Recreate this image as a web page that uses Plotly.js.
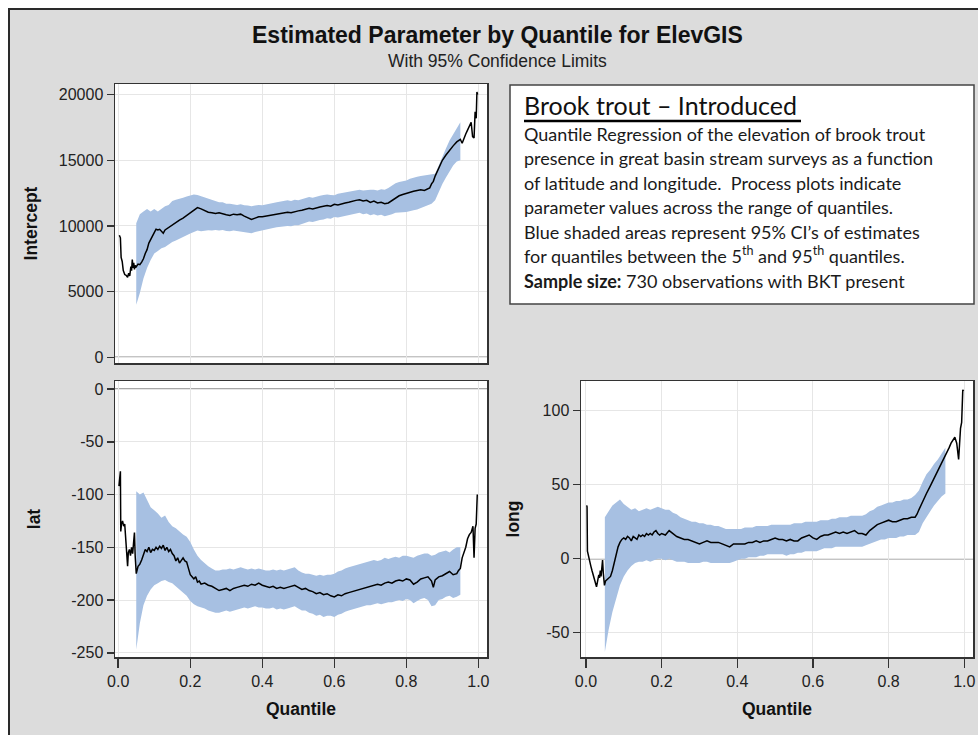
<!DOCTYPE html>
<html>
<head>
<meta charset="utf-8">
<script src="https://cdn.plot.ly/plotly-3.0.1.min.js"></script>
<style>
html,body{margin:0;padding:0;background:#ffffff;}
#chart{width:978px;height:735px;}
</style>
</head>
<body>
<div id="chart"></div>
<script>
// ---------------- DATA ----------------
const bandQ = [0.05,0.06,0.07,0.08,0.09,0.10,0.11,0.12,0.13,0.14,0.15,0.16,0.17,0.18,0.19,0.20,0.21,0.22,0.23,0.24,0.25,0.26,0.27,0.28,0.29,0.30,0.31,0.32,0.33,0.34,0.35,0.36,0.37,0.38,0.39,0.40,0.41,0.42,0.43,0.44,0.45,0.46,0.47,0.48,0.49,0.50,0.51,0.52,0.53,0.54,0.55,0.56,0.57,0.58,0.59,0.60,0.61,0.62,0.63,0.64,0.65,0.66,0.67,0.68,0.69,0.70,0.71,0.72,0.73,0.74,0.75,0.76,0.77,0.78,0.79,0.80,0.81,0.82,0.83,0.84,0.85,0.86,0.87,0.88,0.89,0.90,0.91,0.92,0.93,0.94,0.95];

// Intercept
const interceptQ = [0.003,0.006,0.008,0.011,0.014,0.018,0.022,0.026,0.029,0.032,0.035,0.037,0.039,0.041,0.043,0.045,0.047,0.05,0.055,0.06,0.065,0.07,0.075,0.08,0.085,0.09,0.095,0.1,0.105,0.11,0.115,0.12,0.125,0.13,0.135,0.14,0.15,0.16,0.17,0.18,0.19,0.2,0.21,0.22,0.23,0.24,0.25,0.26,0.27,0.28,0.29,0.3,0.31,0.32,0.33,0.34,0.35,0.36,0.37,0.38,0.39,0.4,0.41,0.42,0.43,0.44,0.45,0.46,0.47,0.48,0.49,0.5,0.51,0.52,0.53,0.54,0.55,0.56,0.57,0.58,0.59,0.6,0.61,0.62,0.63,0.64,0.65,0.66,0.67,0.68,0.69,0.7,0.71,0.72,0.73,0.74,0.75,0.76,0.77,0.78,0.79,0.8,0.81,0.82,0.83,0.84,0.85,0.86,0.865,0.87,0.875,0.88,0.885,0.89,0.9,0.91,0.92,0.93,0.94,0.95,0.955,0.96,0.965,0.97,0.975,0.98,0.984,0.988,0.991,0.994,0.996,0.998];
const interceptEst = [9300,9100,7600,7300,6600,6300,6250,6100,6400,6200,6900,6600,7450,6800,7200,6700,7000,6900,7100,7050,7250,7500,7900,8200,8700,9000,9300,9500,9750,9700,9750,9600,9450,9700,9800,9900,10100,10250,10450,10600,10800,11000,11200,11400,11300,11150,11050,11000,10950,11000,10900,10850,10800,10900,10850,10900,10750,10650,10500,10600,10700,10700,10750,10800,10850,10900,10950,11000,11050,11000,11100,11150,11200,11250,11350,11300,11400,11450,11500,11550,11500,11650,11600,11700,11750,11800,11900,11950,12000,11900,11950,11800,11900,11750,11800,11700,11750,11950,12100,12300,12400,12500,12600,12650,12700,12750,12700,12800,12900,13200,13400,13800,14100,14500,15000,15400,15800,16100,16400,16600,16300,16700,17000,17300,17600,17900,16800,16700,18700,18200,20200,20000];
const interceptUpper = [10200,10900,11100,11300,11100,11300,11100,11300,11500,11600,11900,12000,12050,12150,12250,12330,12400,12350,12250,12150,12070,11950,11900,11800,11800,11700,11700,11650,11600,11650,11570,11550,11500,11550,11600,11570,11650,11700,11750,11800,11850,11900,11950,11900,12000,11950,12050,12150,12200,12150,12250,12300,12350,12400,12350,12330,12450,12500,12550,12600,12650,12700,12750,12700,12750,12760,12750,12700,12800,12750,12900,13100,13250,13350,13400,13470,13600,13700,13750,13800,13850,13900,13950,13980,14600,15300,15900,16500,17000,17500,17900];
const interceptLower = [4000,4900,6000,6800,7400,7900,8100,8300,8400,8600,8780,8900,9050,9200,9300,9420,9550,9650,9600,9650,9670,9650,9700,9650,9700,9620,9600,9650,9600,9580,9540,9500,9450,9550,9620,9670,9750,9800,9850,9900,9950,9950,10000,9980,10050,10050,10150,10250,10350,10300,10400,10450,10500,10580,10550,10680,10650,10700,10750,10800,10900,10950,11000,10900,10950,10810,10900,10800,10850,10750,10800,10900,11000,11050,11050,11060,11150,11200,11250,11350,11440,11550,11700,11950,12600,13200,13700,14200,14600,14900,15000];

// lat
const latQ = [0.002,0.004,0.006,0.007,0.009,0.012,0.015,0.018,0.021,0.024,0.026,0.028,0.031,0.034,0.037,0.04,0.042,0.045,0.047,0.05,0.055,0.06,0.065,0.07,0.075,0.08,0.085,0.09,0.095,0.1,0.105,0.11,0.115,0.12,0.125,0.13,0.135,0.14,0.145,0.15,0.155,0.16,0.165,0.17,0.175,0.18,0.185,0.19,0.195,0.2,0.205,0.21,0.215,0.22,0.225,0.23,0.24,0.25,0.26,0.27,0.28,0.29,0.3,0.31,0.32,0.33,0.34,0.35,0.36,0.37,0.38,0.39,0.4,0.41,0.42,0.43,0.44,0.45,0.46,0.47,0.48,0.49,0.5,0.51,0.52,0.53,0.54,0.55,0.56,0.57,0.58,0.59,0.6,0.61,0.62,0.63,0.64,0.65,0.66,0.67,0.68,0.69,0.7,0.71,0.72,0.73,0.74,0.75,0.76,0.77,0.78,0.79,0.8,0.81,0.82,0.83,0.84,0.85,0.86,0.87,0.875,0.88,0.89,0.9,0.91,0.92,0.93,0.94,0.945,0.95,0.955,0.96,0.965,0.97,0.975,0.98,0.985,0.988,0.991,0.994,0.997];
const latEst = [-92,-80,-78,-135,-128,-125,-130,-128,-142,-150,-168,-155,-152,-158,-150,-156,-148,-136,-158,-175,-168,-166,-162,-157,-152,-154,-150,-155,-152,-153,-150,-152,-149,-151,-148,-153,-150,-154,-152,-156,-158,-163,-160,-165,-162,-160,-163,-164,-170,-176,-178,-180,-178,-183,-182,-185,-184,-186,-187,-189,-191,-190,-189,-191,-189,-188,-187,-186,-187,-185,-186,-184,-186,-187,-188,-187,-189,-188,-189,-188,-187,-186,-188,-190,-189,-191,-192,-194,-193,-195,-194,-196,-197,-195,-196,-194,-193,-192,-191,-190,-189,-188,-187,-186,-185,-186,-184,-183,-184,-182,-181,-182,-180,-181,-185,-183,-180,-179,-178,-182,-188,-181,-178,-177,-175,-173,-176,-175,-172,-170,-160,-155,-150,-142,-138,-136,-130,-160,-132,-128,-100];
const latUpper = [-97,-100,-98,-105,-112,-115,-118,-122,-120,-126,-130,-132,-135,-138,-140,-145,-152,-158,-162,-165,-168,-170,-172,-172,-171,-171,-170,-171,-170,-169,-170,-171,-170,-171,-170,-171,-172,-172,-171,-172,-171,-172,-171,-170,-169,-172,-174,-175,-175,-176,-177,-176,-177,-176,-176,-175,-173,-172,-170,-169,-168,-167,-166,-165,-164,-163,-162,-163,-162,-160,-161,-160,-159,-160,-158,-158,-159,-160,-158,-157,-156,-156,-158,-157,-155,-154,-153,-155,-152,-150,-150];
const latLower = [-247,-222,-205,-196,-190,-186,-184,-182,-181,-183,-184,-187,-190,-193,-196,-201,-204,-206,-207,-208,-210,-211,-212,-212,-211,-210,-211,-210,-209,-208,-207,-208,-207,-206,-207,-207,-208,-208,-207,-209,-208,-209,-208,-207,-206,-208,-210,-210,-212,-213,-215,-214,-216,-215,-215,-216,-214,-213,-211,-210,-209,-208,-207,-206,-205,-205,-204,-203,-204,-203,-202,-202,-201,-200,-201,-199,-200,-203,-201,-199,-198,-200,-206,-205,-200,-199,-197,-196,-198,-197,-195];

// long
const longQ = [0.002,0.003,0.004,0.007,0.01,0.013,0.016,0.019,0.022,0.025,0.028,0.031,0.034,0.036,0.038,0.04,0.042,0.044,0.046,0.049,0.052,0.056,0.06,0.065,0.07,0.075,0.08,0.085,0.09,0.095,0.1,0.105,0.11,0.115,0.12,0.125,0.13,0.135,0.14,0.145,0.15,0.155,0.16,0.165,0.17,0.175,0.18,0.185,0.19,0.195,0.2,0.21,0.22,0.23,0.24,0.25,0.26,0.27,0.28,0.29,0.3,0.31,0.32,0.33,0.34,0.35,0.36,0.37,0.38,0.39,0.4,0.41,0.42,0.43,0.44,0.45,0.46,0.47,0.48,0.49,0.5,0.51,0.52,0.53,0.54,0.55,0.56,0.57,0.58,0.59,0.6,0.61,0.62,0.63,0.64,0.65,0.66,0.67,0.68,0.69,0.7,0.71,0.72,0.73,0.74,0.75,0.76,0.77,0.78,0.79,0.8,0.81,0.82,0.83,0.84,0.85,0.86,0.87,0.875,0.88,0.885,0.89,0.9,0.91,0.92,0.93,0.94,0.95,0.96,0.965,0.97,0.975,0.98,0.985,0.99,0.993,0.996,0.998];
const longEst = [36,35,5,1,-2,-5,-8,-11,-14,-16,-19,-15,-11,-13,-8,-12,-6,-1,-10,-18,-15,-14,-13,-12,-8,-2,4,8,11,13,14,13,15,14,12,15,14,13,16,15,16,15,17,16,17,16,18,19,17,16,17,16,19,17,15,14,13,13,12,11,10,11,12,11,11,11,10,9,8,10,10,10,10,11,11,12,11,12,12,13,14,13,13,12,13,12,12,14,15,16,14,13,15,16,16,17,18,17,18,17,18,19,17,17,16,19,21,23,24,25,26,25,25,26,27,27,28,28,30,33,36,39,44,49,54,59,64,69,75,78,80,82,78,67,88,92,114,113];
const longUpper = [28,32,36,38,40,37,35,33,34,32,33,34,33,34,35,34,33,33,31,30,28,27,26,25,25,24,24,23,23,22,22,21,20,20,20,20,20,21,21,21,22,22,22,22,23,23,23,23,23,23,24,24,24,25,25,25,25,26,26,26,27,27,28,28,28,29,29,29,29,30,32,33,35,36,37,38,38,39,39,40,40,41,43,46,52,57,60,64,67,71,75];
const longLower = [-63,-48,-36,-27,-18,-12,-8,-5,-3,-2,-2,-1,-2,-1,0,0,-1,0,-1,-2,-2,-2,-3,-3,-3,-3,-2,-2,-3,-3,-3,-3,-3,-3,-2,-1,0,0,1,1,1,2,2,3,3,3,3,3,2,3,3,4,4,5,5,5,5,6,7,7,7,8,8,8,8,8,8,8,8,9,10,11,12,13,13,14,14,14,15,15,16,16,16,18,24,28,32,36,39,42,44];

// tick labels
const xTicks = [0.0, 0.2, 0.4, 0.6, 0.8, 1.0];
const xTickText = ['0.0', '0.2', '0.4', '0.6', '0.8', '1.0'];
const interceptTicks = [0, 5000, 10000, 15000, 20000];
const interceptTickText = ['0', '5000', '10000', '15000', '20000'];
const latTicks = [0, -50, -100, -150, -200, -250];
const latTickText = ['0', '-50', '-100', '-150', '-200', '-250'];
const longTicks = [-50, 0, 50, 100];
const longTickText = ['-50', '0', '50', '100'];

// ---------------- LAYOUT HELPERS ----------------
const W = 978, H = 735;
const px = v => v / W;
const py = v => 1 - v / H;

const bandColor = '#a7c0e2';
const lineColor = '#000000';
const frame = '#333333';
const grid = '#e6e6e6';
const tickFont = {family: 'Liberation Sans, Arial, sans-serif', size: 16, color: '#222'};
const titleFont = {family: 'Liberation Sans, Arial, sans-serif', size: 17.5, color: '#111'};

function bandTraces(lo, hi, xa, ya) {
  return [
    {x: bandQ, y: lo, xaxis: xa, yaxis: ya, type: 'scatter', mode: 'lines',
     line: {width: 0, color: bandColor}, hoverinfo: 'skip', showlegend: false},
    {x: bandQ, y: hi, xaxis: xa, yaxis: ya, type: 'scatter', mode: 'lines',
     line: {width: 0, color: bandColor}, fill: 'tonexty', fillcolor: bandColor,
     hoverinfo: 'skip', showlegend: false}
  ];
}
function estTrace(q, v, xa, ya) {
  return {x: q, y: v, xaxis: xa, yaxis: ya, type: 'scatter', mode: 'lines',
          line: {width: 1.5, color: lineColor}, showlegend: false};
}

const data = [
  ...bandTraces(interceptLower, interceptUpper, 'x', 'y'),
  estTrace(interceptQ, interceptEst, 'x', 'y'),
  ...bandTraces(latLower, latUpper, 'x2', 'y2'),
  estTrace(latQ, latEst, 'x2', 'y2'),
  ...bandTraces(longLower, longUpper, 'x3', 'y3'),
  estTrace(longQ, longEst, 'x3', 'y3')
];

function xAxis(domain, range, anchor, showLabels) {
  const ax = {
    domain: domain, range: range, anchor: anchor, autorange: false,
    tickmode: 'array', tickvals: xTicks, ticktext: xTickText,
    showticklabels: showLabels, ticks: showLabels ? 'outside' : '',
    ticklen: 9, tickwidth: 1.5, tickcolor: frame,
    showgrid: true, gridcolor: grid, gridwidth: 1,
    showline: true, mirror: true, linecolor: frame, linewidth: 1.5,
    zeroline: false, tickfont: tickFont, automargin: false
  };
  if (showLabels) ax.title = {text: '<b>Quantile</b>', font: titleFont, standoff: 14};
  return ax;
}
function yAxis(domain, range, anchor, vals, texts, title, standoff) {
  return {
    domain: domain, range: range, anchor: anchor, autorange: false,
    tickmode: 'array', tickvals: vals, ticktext: texts,
    ticks: 'outside', ticklen: 7, tickwidth: 1.5, tickcolor: frame,
    showgrid: true, gridcolor: grid, gridwidth: 1,
    showline: true, mirror: true, linecolor: frame, linewidth: 1.5,
    zeroline: false, tickfont: tickFont, automargin: false,
    title: {text: '<b>' + title + '</b>', font: titleFont, standoff: standoff}
  };
}

const leftX = [px(115), px(487)];
const rightX = [px(581), px(973)];
const topY = [py(363), py(84)];
const botY = [py(657), py(381)];

const bodySize = 18;
const bodyFont = {family: 'Lato, Open Sans, sans-serif', size: bodySize, color: '#1a1a1a'};
const bodyLines = [
  'Quantile Regression of the elevation of brook trout',
  'presence in great basin stream surveys as a function',
  'of latitude and longitude.  Process plots indicate',
  'parameter values across the range of quantiles.',
  'Blue shaded areas represent 95% CI\u2019s of estimates',
  'for quantiles between the 5<sup>th</sup> and 95<sup>th</sup> quantiles.',
  '<b>Sample size:</b> 730 observations with BKT present'
];
const bodyBaselines = [142, 166.5, 191, 215.5, 240, 264.5, 289];

const annotations = [
  {text: '<b>Estimated Parameter by Quantile for ElevGIS</b>', xref: 'paper', yref: 'paper',
   x: px(498), y: py(44 + 0.212 * 23 + 1), xanchor: 'center', yanchor: 'bottom', showarrow: false,
   font: {family: 'Liberation Sans, Arial, sans-serif', size: 23, color: '#111'}},
  {text: 'With 95% Confidence Limits', xref: 'paper', yref: 'paper',
   x: px(498), y: py(68 + 0.212 * 17.5 + 1), xanchor: 'center', yanchor: 'bottom', showarrow: false,
   font: {family: 'Liberation Sans, Arial, sans-serif', size: 17.5, color: '#222'}},
  {text: 'Brook trout \u2013 Introduced', xref: 'paper', yref: 'paper',
   x: px(522), y: py(116 + 0.213 * 25 + 1), xanchor: 'left', yanchor: 'bottom', showarrow: false,
   font: {family: 'Lato, Open Sans, sans-serif', size: 25, color: '#111'}}
];
bodyLines.forEach((t, i) => {
  annotations.push({text: t, xref: 'paper', yref: 'paper',
    x: px(522), y: py(bodyBaselines[i] + 0.213 * bodySize + 1), xanchor: 'left', yanchor: 'bottom',
    showarrow: false, align: 'left', font: bodyFont});
});

const shapes = [
  // outer frame: white strips and dark border
  {type: 'rect', xref: 'paper', yref: 'paper', x0: 0, x1: 1, y0: py(8), y1: 1,
   fillcolor: '#ffffff', line: {width: 0}, layer: 'above'},
  {type: 'rect', xref: 'paper', yref: 'paper', x0: 0, x1: px(8), y0: 0, y1: 1,
   fillcolor: '#ffffff', line: {width: 0}, layer: 'above'},
  {type: 'line', xref: 'paper', yref: 'paper', x0: px(9), x1: 1, y0: py(9), y1: py(9),
   line: {color: '#2a2a2a', width: 2}, layer: 'above'},
  {type: 'line', xref: 'paper', yref: 'paper', x0: px(9), x1: px(9), y0: 0, y1: py(8),
   line: {color: '#2a2a2a', width: 2}, layer: 'above'},
  // text box
  {type: 'rect', xref: 'paper', yref: 'paper', x0: px(510), x1: px(974), y0: py(304), y1: py(85),
   fillcolor: '#ffffff', line: {color: '#444', width: 1.5}, layer: 'below'},
  // heading underline
  {type: 'line', xref: 'paper', yref: 'paper', x0: px(524), x1: px(801), y0: py(121), y1: py(121),
   line: {color: '#000', width: 2.5}, layer: 'above'},
  // zero reference lines
  {type: 'line', xref: 'x domain', yref: 'y', x0: 0, x1: 1, y0: 0, y1: 0,
   line: {color: '#8a8a8a', width: 1.5}, layer: 'below'},
  {type: 'line', xref: 'x2 domain', yref: 'y2', x0: 0, x1: 1, y0: 0, y1: 0,
   line: {color: '#8a8a8a', width: 1.5}, layer: 'below'},
  {type: 'line', xref: 'x3 domain', yref: 'y3', x0: 0, x1: 1, y0: 0, y1: 0,
   line: {color: '#8a8a8a', width: 1.5}, layer: 'below'}
];

const layout = {
  width: W, height: H,
  margin: {l: 0, r: 0, t: 0, b: 0, pad: 0},
  paper_bgcolor: '#dcdcdc', plot_bgcolor: '#ffffff',
  showlegend: false,
  xaxis: xAxis(leftX, [-0.009, 1.024], 'y', false),
  yaxis: yAxis(topY, [-433, 20810], 'x', interceptTicks, interceptTickText, 'Intercept', 16),
  xaxis2: xAxis(leftX, [-0.009, 1.024], 'y2', true),
  yaxis2: yAxis(botY, [-254, 7.6], 'x2', latTicks, latTickText, 'lat', 26),
  xaxis3: xAxis(rightX, [-0.013, 1.023], 'y3', true),
  yaxis3: yAxis(botY, [-66.4, 120], 'x3', longTicks, longTickText, 'long', 18),
  annotations: annotations,
  shapes: shapes
};

Plotly.newPlot('chart', data, layout, {staticPlot: true, displayModeBar: false});
</script>
</body>
</html>
